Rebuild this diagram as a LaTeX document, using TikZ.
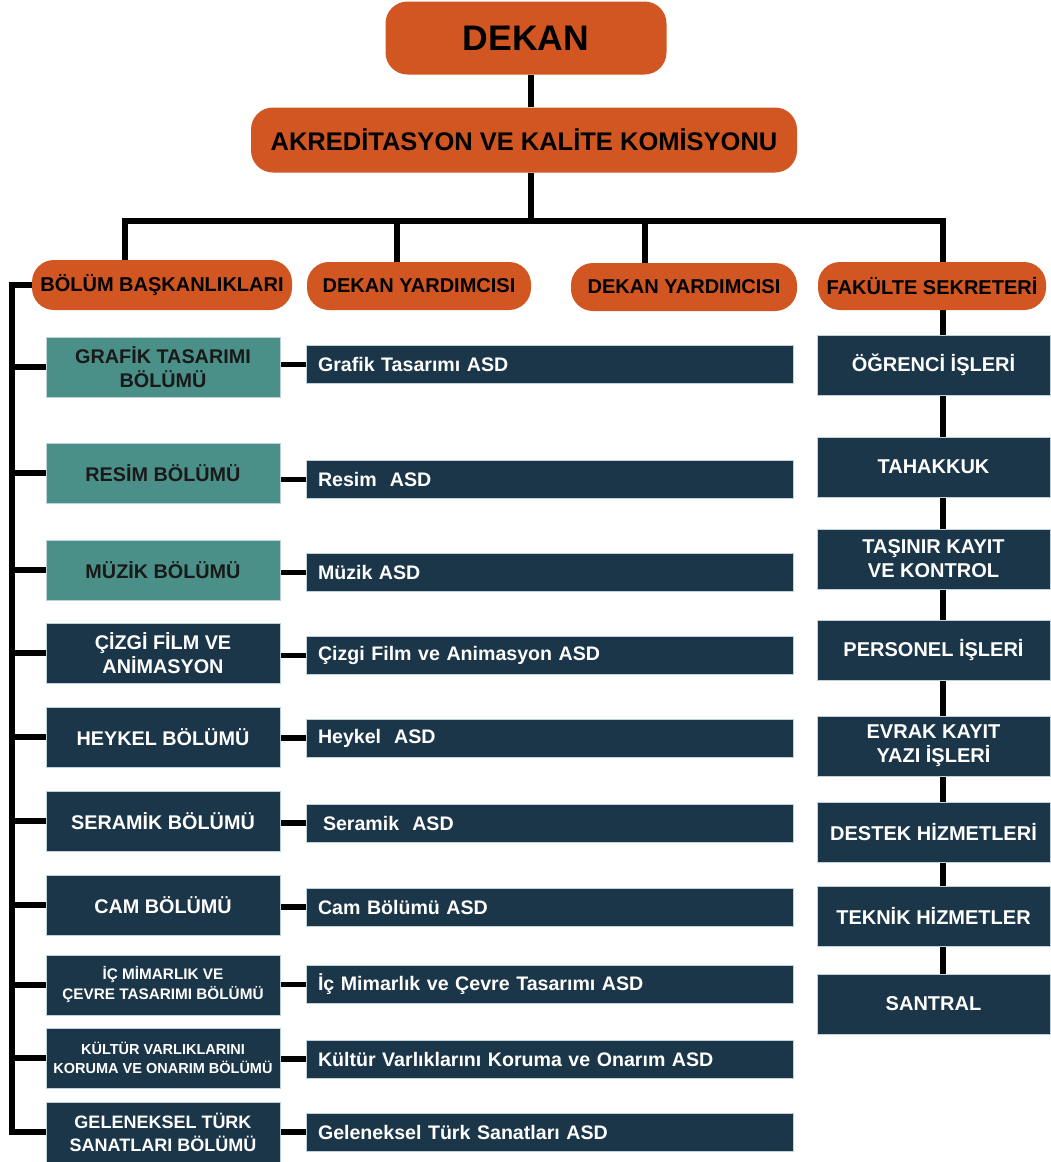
\documentclass[tikz,border=0pt]{standalone}
\usepackage{fontspec}
\setmainfont{Liberation Sans}
\usetikzlibrary{positioning,calc,backgrounds}
\definecolor{turuncu}{RGB}{210,86,34}
\definecolor{camgobegi}{RGB}{74,144,136}
\definecolor{lacivert}{RGB}{27,54,73}
\definecolor{kenar}{RGB}{190,210,220}

\begin{document}
\begin{tikzpicture}[x=1pt,y=-1pt,
	baglanti/.style={line width=5.2pt},
	turuncukutu/.style={fill=turuncu, rounded corners=22pt, text=black, inner sep=0pt},
	bolumkutu/.style={draw=kenar, line width=0.6pt, minimum width=234, minimum height=60,
		align=center, inner sep=0pt, font=\bfseries\fontsize{19.8}{24}\selectfont},
	tealkutu/.style={bolumkutu, fill=camgobegi, text=black!90},
	lacikutu/.style={bolumkutu, fill=lacivert, text=white},
	asdkutu/.style={draw=kenar, line width=0.6pt, fill=lacivert, text=white, minimum height=38,
		text width=463, inner xsep=12pt, inner ysep=0pt, align=left,
		font=\bfseries\fontsize{19.6}{22}\selectfont},
	birimkutu/.style={draw=kenar, line width=0.6pt, fill=lacivert, text=white, minimum width=233,
		minimum height=60, align=center, inner sep=0pt, font=\bfseries\fontsize{20}{24}\selectfont}]
	\useasboundingbox (0,0) rectangle (1051,1162);
	% ust kisim
	\node[turuncukutu, minimum width=281, minimum height=73,
		font=\bfseries\fontsize{35.5}{36}\selectfont] (dekan) at (526,38) {DEKAN};
	\node[turuncukutu, minimum width=546, minimum height=65,
		font=\bfseries\fontsize{25.5}{26}\selectfont] (komisyon) at (524,140) {AKREDİTASYON VE KALİTE KOMİSYONU};
	\node[turuncukutu, minimum width=260, minimum height=50,
		font=\bfseries\fontsize{20}{20}\selectfont] (baskan) at (162,285) {BÖLÜM BAŞKANLIKLARI};
	\node[turuncukutu, minimum width=224, minimum height=48,
		font=\bfseries\fontsize{20}{20}\selectfont] (yard1) at (419,286) {DEKAN YARDIMCISI};
	\node[turuncukutu, minimum width=226, minimum height=48,
		font=\bfseries\fontsize{20}{20}\selectfont] (yard2) at (684,287) {DEKAN YARDIMCISI};
	\node[turuncukutu, minimum width=228, minimum height=48,
		font=\bfseries\fontsize{20}{20}\selectfont] (sekreter) at (932,286) {FAKÜLTE SEKRETERİ};
	% bolumler
	\node[tealkutu] (b1) at (163,367) {GRAFİK TASARIMI\\BÖLÜMÜ};
	\node[tealkutu] (b2) at (163,473) {RESİM BÖLÜMÜ};
	\node[tealkutu] (b3) at (163,570) {MÜZİK BÖLÜMÜ};
	\node[lacikutu] (b4) at (163,653) {ÇİZGİ FİLM VE\\ANİMASYON};
	\node[lacikutu] (b5) at (163,737) {HEYKEL BÖLÜMÜ};
	\node[lacikutu] (b6) at (163,821) {SERAMİK BÖLÜMÜ};
	\node[lacikutu] (b7) at (163,905) {CAM BÖLÜMÜ};
	\node[lacikutu, font=\bfseries\fontsize{15.3}{20}\selectfont] (b8) at (163,985) {İÇ MİMARLIK VE\\ÇEVRE TASARIMI BÖLÜMÜ};
	\node[lacikutu, font=\bfseries\fontsize{14.5}{19}\selectfont] (b9) at (163,1058) {KÜLTÜR VARLIKLARINI\\KORUMA VE ONARIM BÖLÜMÜ};
	\node[lacikutu, font=\bfseries\fontsize{18}{23}\selectfont] (b10) at (163,1132) {GELENEKSEL TÜRK\\SANATLARI BÖLÜMÜ};
	% anabilim sanat dallari
	\node[asdkutu] (a1) at (549.5,364.5) {Grafik Tasarımı ASD};
	\node[asdkutu] (a2) at (549.5,479.5) {Resim\ \ ASD};
	\node[asdkutu] (a3) at (549.5,572.5) {Müzik ASD};
	\node[asdkutu] (a4) at (549.5,655.5) {Çizgi Film ve Animasyon ASD};
	\node[asdkutu] (a5) at (549.5,738) {Heykel\ \ ASD};
	\node[asdkutu] (a6) at (549.5,823) {\hspace{5pt}Seramik\ \ ASD};
	\node[asdkutu] (a7) at (549.5,907) {Cam Bölümü ASD};
	\node[asdkutu] (a8) at (549.5,984.5) {İç Mimarlık ve Çevre Tasarımı ASD};
	\node[asdkutu] (a9) at (549.5,1059) {Kültür Varlıklarını Koruma ve Onarım ASD};
	\node[asdkutu] (a10) at (549.5,1132) {Geleneksel Türk Sanatları ASD};
	% sekreterlik birimleri
	\node[birimkutu] (r1) at (933.5,365) {ÖĞRENCİ İŞLERİ};
	\node[birimkutu] (r2) at (933.5,467) {TAHAKKUK};
	\node[birimkutu] (r3) at (933.5,559) {TAŞINIR KAYIT\\VE KONTROL};
	\node[birimkutu] (r4) at (933.5,650) {PERSONEL İŞLERİ};
	\node[birimkutu] (r5) at (933.5,746) {EVRAK KAYIT\\YAZI İŞLERİ};
	\node[birimkutu] (r6) at (933.5,832) {DESTEK HİZMETLERİ};
	\node[birimkutu] (r7) at (933.5,916) {TEKNİK HİZMETLER};
	\node[birimkutu] (r8) at (933.5,1004) {SANTRAL};
	% baglantilar
	\coordinate (orta) at (531,0);
	\coordinate (bar) at (0,221);
	\coordinate (omurga) at (12,0);
	\coordinate (sag) at (943,0);
	\begin{scope}[on background layer]
	\draw[baglanti] (dekan.south -| orta) -- (komisyon.north -| orta);
	\draw[baglanti] (komisyon.south -| orta) -- (bar -| orta);
	\draw[line width=6.5pt] (122,221) -- (946,221);
	\draw[baglanti] (bar -| 125,0) -- (baskan.north -| 125,0);
	\draw[baglanti] (bar -| 397,0) -- (yard1.north -| 397,0);
	\draw[baglanti] (bar -| 645,0) -- (yard2.north -| 645,0);
	\draw[baglanti] (bar -| sag) -- (sekreter.north -| sag);
	\draw[baglanti] (baskan.west) -- (baskan.west -| omurga) |- (b10.west);
	\foreach \i in {1,...,9}
		\draw[baglanti] (b\i.west -| omurga) -- (b\i.west);
	\foreach \i in {1,...,10}
		\draw[baglanti] (b\i.east |- a\i.west) -- (a\i.west);
	\draw[baglanti] (sekreter.south -| sag) -- (r8.north -| sag);
	\end{scope}
\end{tikzpicture}
\end{document}
